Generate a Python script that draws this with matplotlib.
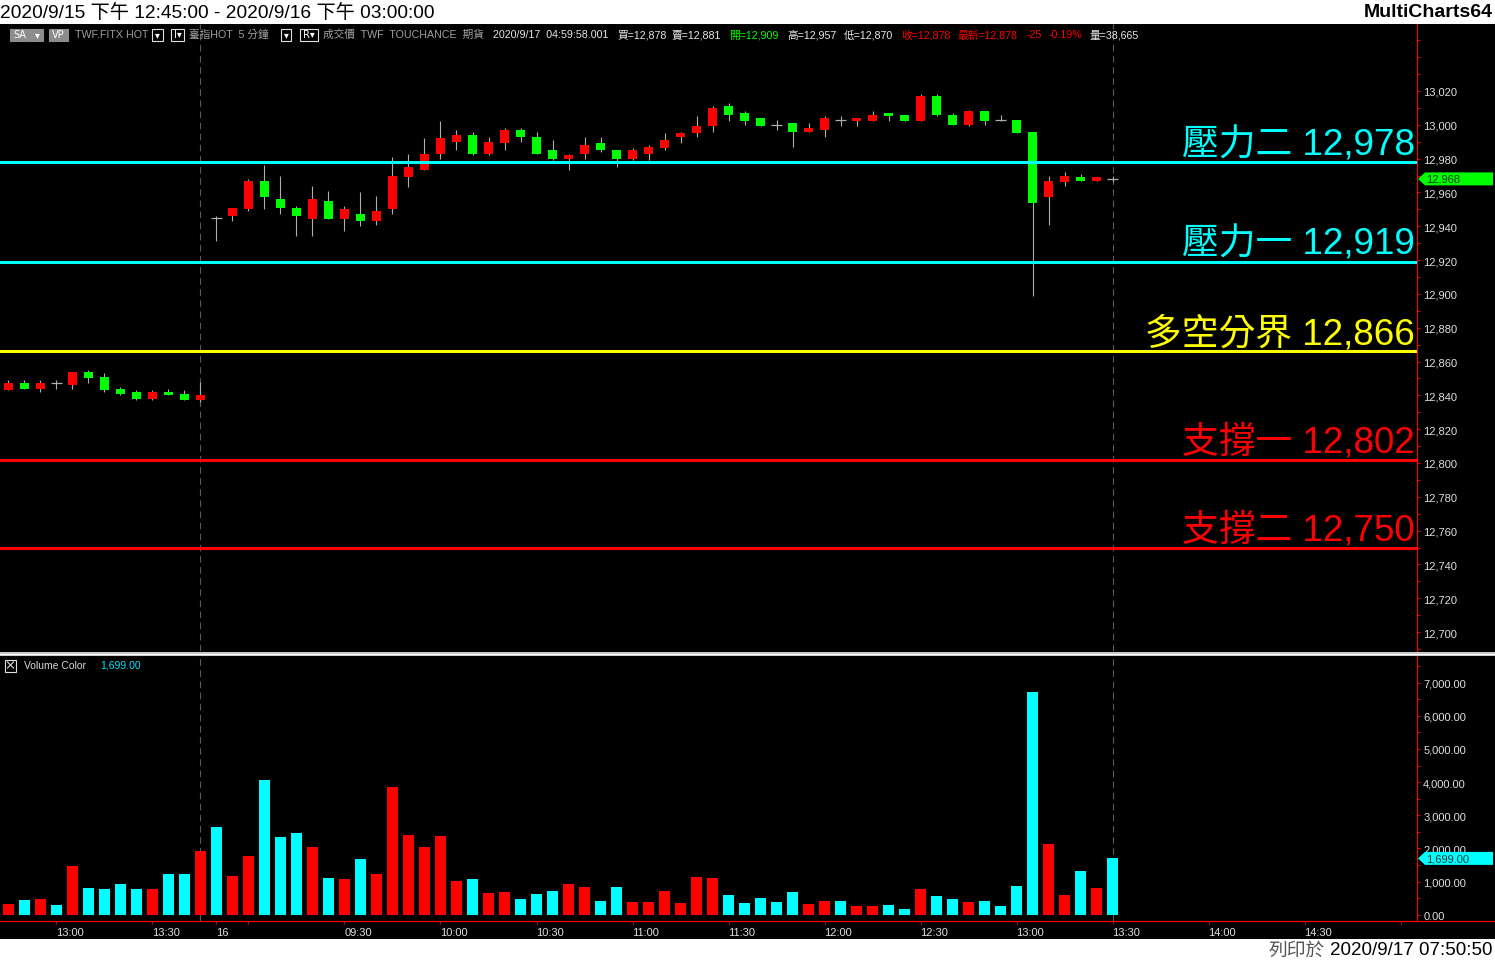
import numpy as np
import matplotlib
matplotlib.use('Agg')
import matplotlib.pyplot as plt
import matplotlib.transforms as mtransforms
from matplotlib.patches import Rectangle, Polygon
from matplotlib.lines import Line2D
from matplotlib.ticker import FuncFormatter

plt.rcParams['font.family'] = ['Liberation Sans', 'Noto Sans CJK TC', 'DejaVu Sans']

# 5-minute bars, 2020/9/15 12:45 -> 2020/9/16 13:30 (index 0..69)
opens = [12843, 12847, 12844, 12847, 12846, 12854, 12851, 12844, 12842, 12838, 12842, 12841, 12837,
         12945, 12946, 12950, 12967, 12956, 12951, 12944, 12955, 12944, 12947, 12943, 12950, 12969,
         12973, 12983, 12990, 12994, 12983, 12989, 12997, 12993, 12985, 12980, 12983, 12989, 12985,
         12980, 12983, 12986, 12993, 12995, 12999, 13011, 13007, 13004, 13000, 13001, 12996, 12997,
         13003, 13002, 13002, 13007, 13006, 13002, 13017, 13006, 13000, 13008, 13003, 13003, 12996,
         12957, 12966, 12969, 12967, 12968]
highs = [12849, 12849, 12849, 12849, 12854, 12855, 12853, 12845, 12843, 12843, 12844, 12843, 12848,
         12946, 12951, 12968, 12976, 12970, 12952, 12964, 12961, 12952, 12960, 12958, 12981, 12983,
         12992, 13002, 12997, 12996, 12993, 12998, 12998, 12996, 12991, 12983, 12993, 12993, 12985,
         12986, 12988, 12995, 12996, 13005, 13011, 13013, 13008, 13004, 13003, 13001, 13001, 13005,
         13005, 13004, 13008, 13007, 13006, 13018, 13018, 13007, 13009, 13008, 13006, 13003, 12996,
         12970, 12972, 12971, 12969, 12970]
lows = [12843, 12844, 12842, 12844, 12844, 12847, 12842, 12840, 12837, 12837, 12840, 12837, 12836,
        12931, 12943, 12949, 12950, 12947, 12934, 12934, 12944, 12937, 12940, 12941, 12947, 12963,
        12973, 12980, 12985, 12982, 12982, 12985, 12990, 12983, 12979, 12973, 12980, 12984, 12975,
        12979, 12979, 12985, 12989, 12993, 12996, 13002, 13000, 12999, 12997, 12987, 12996, 12993,
        12999, 12999, 13002, 13002, 13002, 13002, 13005, 13000, 12999, 13000, 13002, 12995, 12899,
        12941, 12964, 12967, 12967, 12966]
closes = [12847, 12844, 12847, 12847, 12854, 12850, 12843, 12841, 12838, 12842, 12840, 12837, 12840,
          12945, 12951, 12967, 12957, 12951, 12946, 12956, 12944, 12950, 12943, 12949, 12970, 12975,
          12983, 12992, 12994, 12983, 12990, 12997, 12993, 12983, 12980, 12982, 12988, 12985, 12980,
          12985, 12987, 12991, 12995, 12999, 13010, 13006, 13002, 12999, 13000, 12996, 12998, 13004,
          13003, 13004, 13006, 13005, 13002, 13017, 13006, 13000, 13008, 13002, 13003, 12995, 12954,
          12967, 12970, 12967, 12969, 12968]
volumes = [323, 443, 474, 293, 1469, 806, 775, 926, 775, 775, 1228, 1228, 1922,
           2646, 1168, 1771, 4064, 2344, 2465, 2043, 1107, 1077, 1680, 1228, 3853, 2405,
           2043, 2374, 1017, 1077, 655, 685, 474, 625, 715, 926, 836, 413, 836,
           383, 383, 715, 353, 1137, 1107, 594, 353, 504, 383, 685, 323, 413,
           413, 262, 262, 293, 172, 775, 564, 474, 383, 413, 262, 866, 6719,
           2133, 594, 1318, 806, 1699]

session_ends = [12, 69]
time_tick_idx = [3, 9, 13, 15, 21, 27, 33, 39, 45, 51, 57, 63, 69, 75, 81, 87]
time_tick_labels = ['13:00', '13:30', '16', '', '09:30', '10:00', '10:30', '11:00', '11:30',
                    '12:00', '12:30', '13:00', '13:30', '14:00', '14:30', '']

level_names = ['壓力二', '壓力一', '多空分界', '支撐一', '支撐二']
level_values = [12978, 12919, 12866, 12802, 12750]
level_colors = ['#00FFFF', '#00FFFF', '#FFFF00', '#FF0000', '#FF0000']

price_ticks = list(range(12700, 13021, 20))
volume_ticks = list(range(0, 7001, 1000))

# ---- layout in pixels ----
W, H = 1495, 962
AX_R = 1416.7


def fx(x):
    return x / W


def fy(y):
    return 1 - y / H


def rect(x0, y0, x1, y1):
    return [x0 / W, 1 - y1 / H, (x1 - x0) / W, (y1 - y0) / H]


fig = plt.figure(figsize=(W / 100, H / 100), dpi=100, facecolor='white')
fig.add_artist(Rectangle((0, fy(940)), 1, (940 - 24.5) / H, transform=fig.transFigure,
                         facecolor='black', edgecolor='none', zorder=-5))

ax = fig.add_axes(rect(0, 24.5, AX_R, 652))
axv = fig.add_axes(rect(0, 657, AX_R, 922))

o = np.array(opens, float)
hi = np.array(highs, float)
lo = np.array(lows, float)
c = np.array(closes, float)
v = np.array(volumes, float)
x = np.arange(len(o))
up = c > o
dn = c < o
flat = c == o

for a in (ax, axv):
    a.set_facecolor('black')
    a.set_xlim(-0.53, 88.01)
    for s in ('top', 'left', 'bottom'):
        a.spines[s].set_visible(False)
    a.spines['right'].set_color('red')
    a.spines['right'].set_linewidth(0.8)
    a.yaxis.tick_right()
    a.tick_params(axis='y', which='both', direction='out', length=2.2, width=0.7,
                  color='red', labelcolor='#E0E0E0', labelsize=8, pad=2.5)
    for i in session_ends:
        a.axvline(i, color='#5A5A5A', lw=0.8, ls=(0, (6, 4)), zorder=1)

# ---- price panel ----
ax.set_ylim(12688.8, 13059.9)
ax.set_xticks([])
ax.set_yticks(price_ticks)
ax.set_yticks(np.arange(12690, 13060, 10), minor=True)
ax.yaxis.set_major_formatter(FuncFormatter(lambda val, p: f'{int(val):,}'))

wick = '#ADADAD'
ax.vlines(x[~flat], lo[~flat], hi[~flat], color=wick, lw=0.8, zorder=2)
ax.bar(x[up], np.maximum(c - o, 1.5)[up], bottom=o[up], width=0.58, color='#FF0000', lw=0, zorder=3)
ax.bar(x[dn], np.maximum(o - c, 1.5)[dn], bottom=c[dn], width=0.58, color='#00FF00', lw=0, zorder=3)
ax.vlines(x[flat], lo[flat], hi[flat], color=wick, lw=0.8, zorder=2)
ax.hlines(c[flat], x[flat] - 0.34, x[flat] + 0.34, color=wick, lw=0.9, zorder=3)

for name, val, col in zip(level_names, level_values, level_colors):
    ax.axhline(val, color=col, lw=2.2, zorder=4)
    ax.text(0.9988, val + 4.7, f'{name} {val:,}', transform=ax.get_yaxis_transform(),
            ha='right', va='baseline', fontsize=26.5, color=col, zorder=5)

# last price marker
blend = mtransforms.blended_transform_factory(fig.transFigure, ax.transData)
last = closes[-1]
dy = 6.5 / 1.6906
ax.add_patch(Polygon([(fx(1418), last), (fx(1425), last + dy), (fx(1493), last + dy),
                      (fx(1493), last - dy), (fx(1425), last - dy)], closed=True,
                     transform=blend, facecolor='#00FF00', edgecolor='none', clip_on=False, zorder=6))
ax.text(fx(1426), last, f'{last:,}', transform=blend, ha='left', va='center',
        fontsize=8, color='#0A3A0A', clip_on=False, zorder=7)

# ---- volume panel ----
axv.set_ylim(-190, 7805)
axv.bar(x, v, width=0.69, color=np.where(up, '#FF0000', '#00FFFF'), lw=0, zorder=3)
axv.set_yticks(volume_ticks)
axv.set_yticks(np.arange(0, 7801, 500), minor=True)
axv.yaxis.set_major_formatter(FuncFormatter(lambda val, p: f'{val:,.2f}'))
axv.set_xticks(time_tick_idx)
axv.set_xticklabels(time_tick_labels, ha='left')
axv.tick_params(axis='x', direction='out', length=2.5, width=0.7, color='red',
                labelcolor='#E0E0E0', labelsize=8, pad=1.5)

blendv = mtransforms.blended_transform_factory(fig.transFigure, axv.transData)
lastv = volumes[-1]
dyv = 6.5 * 30.17
axv.add_patch(Polygon([(fx(1418), lastv), (fx(1425), lastv + dyv), (fx(1493), lastv + dyv),
                       (fx(1493), lastv - dyv), (fx(1425), lastv - dyv)], closed=True,
                      transform=blendv, facecolor='#00FFFF', edgecolor='none', clip_on=False, zorder=6))
axv.text(fx(1426), lastv, f'{lastv:,.2f}', transform=blendv, ha='left', va='center',
         fontsize=8, color='#0A3A3A', clip_on=False, zorder=7)

# frame lines
fig.add_artist(Line2D([0, 1], [fy(921.7)] * 2, color='red', lw=0.9))
fig.add_artist(Line2D([0, 1], [fy(655)] * 2, color='#C8C8C8', lw=2.9))
fig.add_artist(Line2D([0, 1], [fy(655)] * 2, color='white', lw=0.8))

# legend of volume panel
fig.add_artist(Rectangle((fx(4.5), fy(672.5)), 12 / W, 12 / H, transform=fig.transFigure,
                         facecolor='none', edgecolor='#E0E0E0', lw=0.8))
fig.add_artist(Line2D([fx(7.5), fx(13.5)], [fy(663), fy(669)], color='#E0E0E0', lw=0.8))
fig.add_artist(Line2D([fx(7.5), fx(13.5)], [fy(669), fy(663)], color='#E0E0E0', lw=0.8))
fig.text(fx(24), fy(666), 'Volume Color', ha='left', va='center', fontsize=7.5, color='#D8D8D8')
fig.text(fx(100), fy(666), f'{lastv:,.2f}', ha='left', va='center', fontsize=7.5, color='#00E5FF')


# ---- header row ----
def hdr(xp, s, col='#A0A0A0'):
    fig.text(fx(xp), fy(35), s, ha='left', va='center', fontsize=7.7, color=col)


def box(x0, x1, s, fill):
    fig.add_artist(Rectangle((fx(x0), fy(41.5)), (x1 - x0) / W, 12 / H, transform=fig.transFigure,
                             facecolor='#8C8C8C' if fill else 'black',
                             edgecolor='#8C8C8C' if fill else '#E0E0E0', lw=0.8))
    fig.text(fx((x0 + x1) / 2), fy(35.3), s, ha='center', va='center', fontsize=7,
             color='white', family=['DejaVu Sans'])


box(10, 30, 'SA', True)
box(31.5, 43, '▾', True)
box(49, 68, 'VP', True)
box(152, 163, '▾', False)
box(171, 184, 'I▾', False)
box(281, 291, '▾', False)
box(300, 318, 'R▾', False)

hdr(75, 'TWF.FITX HOT')
hdr(189, '臺指HOT  5 分鐘')
hdr(323, '成交價  TWF  TOUCHANCE  期貨')
hdr(493, '2020/9/17  04:59:58.001', '#E8E8E8')
hdr(617, '買=12,878', '#E8E8E8')
hdr(672, '賣=12,881', '#E8E8E8')
hdr(729, '開=12,909', '#00FF00')
hdr(787, '高=12,957', '#E8E8E8')
hdr(844, '低=12,870', '#E8E8E8')
hdr(901, '收=12,878', '#FF0000')
hdr(958, '最新=12,878', '#FF0000')
hdr(1027, '-25', '#FF0000')
hdr(1049, '-0.19%', '#FF0000')
hdr(1090, '量=38,665', '#E8E8E8')

# ---- titles outside the chart ----
fig.text(fx(0), fy(12.5), '2020/9/15 下午 12:45:00 - 2020/9/16 下午 03:00:00',
         ha='left', va='center', fontsize=13.8, color='black')
fig.text(fx(1493), fy(12.5), 'MultiCharts64', ha='right', va='center', fontsize=14,
         fontweight='bold', color='black')
fig.text(fx(1493), fy(951), '2020/9/17 07:50:50', ha='right', va='center', fontsize=13.5, color='black')
fig.text(fx(1325), fy(951), '列印於', ha='right', va='center', fontsize=13.5, color='#555555')

fig.savefig('out.png', dpi=100, facecolor='white')
